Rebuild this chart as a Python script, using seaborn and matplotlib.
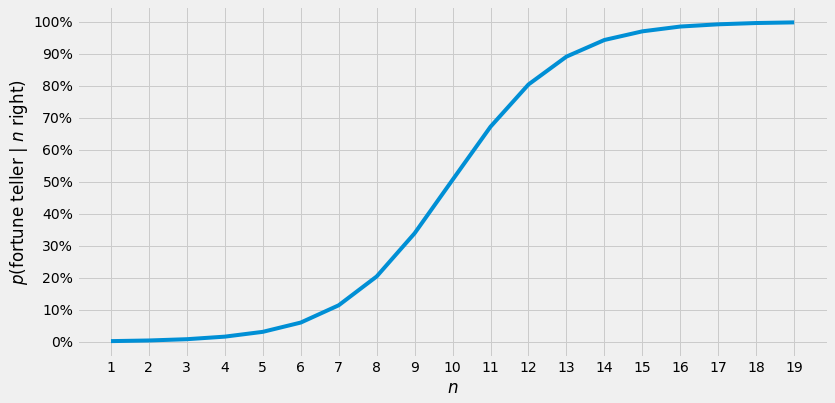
import numpy as np
import pandas as pd
import matplotlib
matplotlib.use("Agg")
import matplotlib.pyplot as plt
import matplotlib.ticker as mtick
import seaborn as sns

# values
n_right = list(range(1, 20))
p_fortune = [0.002, 0.004, 0.008, 0.016, 0.031, 0.060, 0.114, 0.204, 0.339, 0.506,
             0.672, 0.804, 0.891, 0.943, 0.970, 0.985, 0.992, 0.996, 0.998]

df = pd.DataFrame({"n": n_right, "p": p_fortune})

plt.style.use("fivethirtyeight")

fig = plt.figure(figsize=(835 / 72, 403 / 72), dpi=72)
ax = fig.add_axes([0.092, 0.114, 0.9, 0.870])

sns.lineplot(data=df, x="n", y="p", ax=ax, color="#008fd5", linewidth=4)

ax.set_xticks(n_right)
ax.set_yticks(np.arange(0, 1.01, 0.1))
ax.yaxis.set_major_formatter(mtick.PercentFormatter(1.0, decimals=0))
ax.tick_params(labelsize=14)
ax.set_xlabel("$n$", fontsize=16.8)
ax.set_ylabel("$p$(fortune teller | $n$ right)", fontsize=16.8)

fig.savefig("out.png", dpi=72)
